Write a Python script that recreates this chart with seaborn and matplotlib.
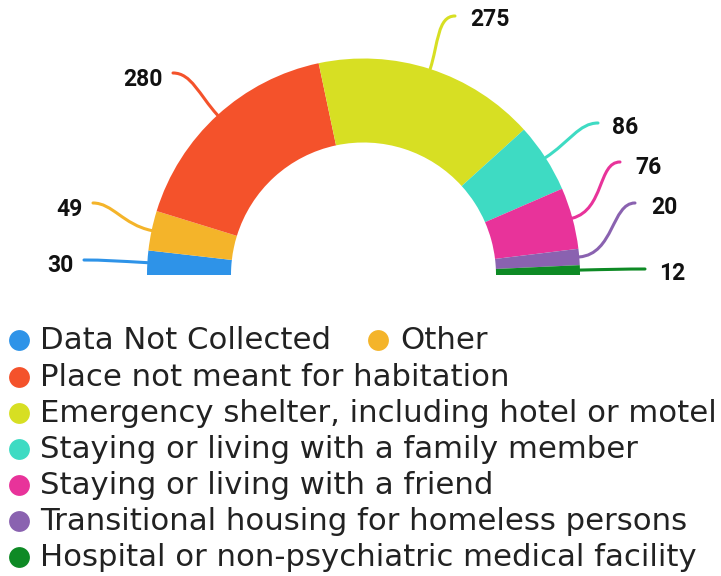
import numpy as np
import matplotlib
matplotlib.use("Agg")
import matplotlib.pyplot as plt
from matplotlib.path import Path
from matplotlib.patches import PathPatch
import seaborn as sns

# ---- data ----
categories = [
    "Data Not Collected",
    "Other",
    "Place not meant for habitation",
    "Emergency shelter, including hotel or motel",
    "Staying or living with a family member",
    "Staying or living with a friend",
    "Transitional housing for homeless persons",
    "Hospital or non-psychiatric medical facility",
]
values = [30, 49, 280, 275, 86, 76, 20, 12]
colors = ["#2E93E8", "#F4B42A", "#F4522B", "#D7DF23",
          "#3EDBC3", "#E8339A", "#8A62B0", "#0E8A25"]

# ---- layout (pixel positions, y measured from top) ----
W, H = 721, 576
CX, CY = 363.5, 275.0
R_OUT, R_W = 216.5, 84.0
label_pos = [(60, 265), (69, 209), (143, 79), (490, 20),
             (625, 127), (649, 167), (664, 207), (672, 273)]
line_end = [(84, 260), (93, 203), (173, 73), (455, 16),
            (598, 123), (620, 162), (635, 203), (645, 269)]
legend_rows = [(19, 40, 340), (378, 400, 340), (19, 40, 377), (19, 40, 413),
               (19, 40, 449), (19, 40, 485), (19, 40, 521), (19, 40, 557)]

sns.set_theme(style="white")
plt.rcParams["font.family"] = ["DejaVu Sans"]

fig = plt.figure(figsize=(W / 100, H / 100), dpi=100)
ax = fig.add_axes([0, 0, 1, 1])


def Y(py):
    return H - py


pal = sns.color_palette(colors)
total = sum(values)
wedges, _ = ax.pie(values + [total], colors=list(pal) + [(0, 0, 0, 0)],
                   startangle=180, counterclock=False,
                   center=(CX, Y(CY)), radius=R_OUT,
                   wedgeprops=dict(width=R_W, linewidth=0))
wedges[-1].set_visible(False)

ax.set_xlim(0, W)
ax.set_ylim(0, H)
ax.set_aspect("equal")
ax.axis("off")

# leader lines and labels
for i, v in enumerate(values):
    w = wedges[i]
    mid = np.deg2rad((w.theta1 + w.theta2) / 2)
    ru = np.array([np.cos(mid), np.sin(mid)])
    p0 = np.array([CX, Y(CY)]) + ru * R_OUT
    p3 = np.array([line_end[i][0], Y(line_end[i][1])])
    L = np.linalg.norm(p3 - p0)
    hdir = np.array([1.0 if p3[0] < CX else -1.0, 0.0])
    p1 = p0 + ru * 0.45 * L
    p2 = p3 + hdir * 0.3 * L
    path = Path([p0, p1, p2, p3], [Path.MOVETO, Path.CURVE4, Path.CURVE4, Path.CURVE4])
    ax.add_patch(PathPatch(path, facecolor="none", edgecolor=pal[i], lw=2.2,
                           capstyle="round"))
    ax.text(label_pos[i][0], Y(label_pos[i][1]), str(v), ha="center",
            va="center", fontsize=16.5, fontweight="bold",
            family=["Roboto", "DejaVu Sans"], color="#111111")

# legend (manual to match row layout)
renderer = fig.canvas.get_renderer()
probe = ax.text(0, 0, categories[3], fontsize=18)
wpx = probe.get_window_extent(renderer).width
probe.remove()
leg_fs = 18 * 677 / wpx

for i, name in enumerate(categories):
    mx, tx, ry = legend_rows[i]
    ax.scatter([mx], [Y(ry)], s=15 ** 2, color=pal[i], linewidths=0)
    ax.text(tx, Y(ry + 9), name, ha="left", va="baseline", fontsize=leg_fs,
            color="#222222")

fig.savefig("out.png", dpi=100)
